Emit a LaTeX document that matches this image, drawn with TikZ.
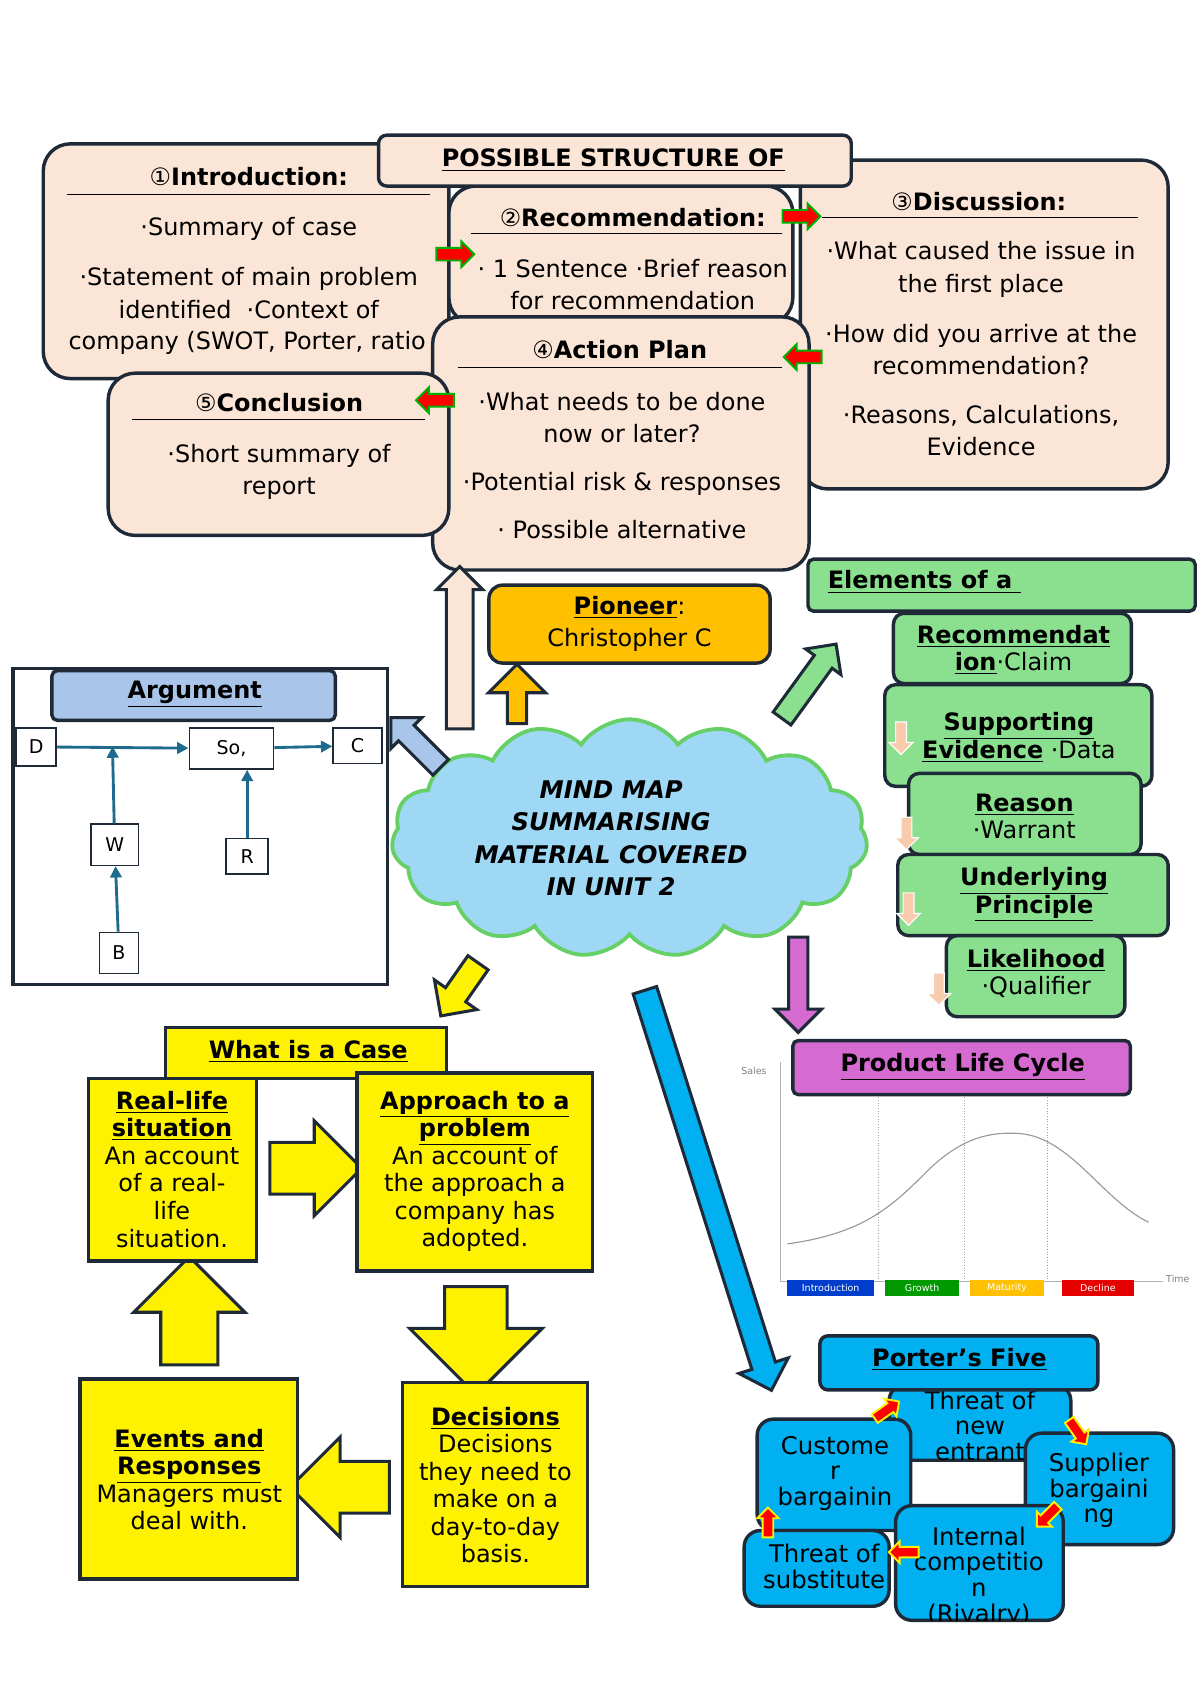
\documentclass[tikz,border=0pt]{standalone}
\usepackage{fontspec}
\setmainfont{DejaVu Sans}
\usetikzlibrary{shapes.symbols,shapes.arrows,arrows.meta}
\definecolor{pinkF}{HTML}{FBE5D6}
\definecolor{edgeC}{HTML}{1E2A38}
\definecolor{greenF}{HTML}{8AE08E}
\definecolor{orangeF}{HTML}{FFC000}
\definecolor{argF}{HTML}{A9C6EA}
\definecolor{orchidF}{HTML}{D56BD0}
\definecolor{cyanF}{HTML}{00B0F0}
\definecolor{cloudF}{HTML}{9ED8F4}
\definecolor{cloudE}{HTML}{66D066}
\definecolor{tealC}{HTML}{1F6B8E}
\definecolor{peachF}{HTML}{F8CBAD}
\newcommand\ub[1]{\underline{\textbf{#1}}}
\newcommand\bx[7]{\node[#6, minimum width={(#4-#2)*0.02cm}, minimum height={(#5-#3)*0.02cm}] (#1) at ({(#2+#4)/2},{(#3+#5)/2}) {#7};}
\tikzset{
  box/.style={draw=edgeC, line width=1.8pt, inner sep=0},
  pinkbox/.style={box, fill=pinkF, rounded corners=0.5cm},
  greenbox/.style={box, fill=greenF, rounded corners=0.2cm},
  ybox/.style={box, fill=yellow},
  cbox/.style={box, fill=cyanF, rounded corners=0.3cm},
  sq/.style={draw=edgeC, line width=0.8pt, fill=white, inner sep=0},
  txt/.style={align=center, font=\fontsize{12.6}{17}\selectfont, inner sep=0},
  ctxt/.style={align=center, font=\fontsize{12.6}{14.5}\selectfont, inner sep=0},
  ptxt/.style={align=center, font=\fontsize{12.8}{13.5}\selectfont, inner sep=0},
  blk/.style={single arrow, draw=edgeC, line width=1.6pt, inner sep=0, single arrow head indent=0pt},
  redarr/.style={single arrow, fill=red, draw=green!70!black, line width=1pt, inner sep=0,
    minimum height=0.7cm, text height=0.2cm, single arrow head extend=0.12cm},
  porarr/.style={single arrow, fill=red, draw=yellow, line width=1pt, inner sep=0,
    minimum height=0.55cm, text height=0.16cm, single arrow head extend=0.1cm},
  peacharr/.style={single arrow, fill=peachF, draw=white, line width=0.6pt, inner sep=0,
    minimum height=0.6cm, text height=0.18cm, single arrow head extend=0.12cm, rotate=-90},
  lnk/.style={draw=tealC, line width=1.5pt, -{Triangle[length=6pt,width=6pt]}},
  stage/.style={inner sep=0, minimum height=0.3cm, text=white, font=\fontsize{5}{5}\selectfont}
}
\begin{document}
\begin{tikzpicture}[x=0.02cm, y=-0.02cm]
\useasboundingbox (0,0) rectangle (1109,1568);

% structure of a report
\bx{intro}{40}{133}{415}{350}{pinkbox}{}
\bx{disc}{740}{148}{1080}{452}{pinkbox}{}
\bx{recom}{415}{172}{733}{300}{pinkbox}{}
\bx{struct}{350}{125}{787}{172}{box, fill=pinkF, rounded corners=0.15cm}{}
\bx{action}{400}{293}{748}{527}{pinkbox}{}
\bx{concl}{100}{345}{415}{495}{pinkbox}{}
\node[txt] (structT) at (567,148) {\ub{POSSIBLE STRUCTURE OF}};

\node[txt] (introT) at (230,163) {①\textbf{Introduction:}};
\draw (62,180) -- (398,180);
\node[txt] at (230,212) {·Summary of case};
\node[txt] at (230,271) {·Statement of main problem\\identified\ \ ·Context of};
\begin{scope}
\clip (42,290) rectangle (400,340);
\node[txt, anchor=west] at (63,317) {company (SWOT, Porter, ratio};
\end{scope}

\node[txt] (recomT) at (585,201) {②\textbf{Recommendation:}};
\draw (435,216) -- (723,216);
\node[txt] at (585,263) {· 1 Sentence ·Brief reason\\for recommendation};

\node[txt] (discT) at (905,186) {③\textbf{Discussion:}};
\draw (760,201) -- (1052,201);
\node[txt] at (907,249) {·What caused the issue in\\the first place};
\node[txt] at (907,323) {·How did you arrive at the\\recommendation?};
\node[txt] at (907,398) {·Reasons, Calculations,\\Evidence};

\node[txt] (actionT) at (573,323) {④\textbf{Action Plan}};
\draw (423,340) -- (723,340);
\node[txt] at (575,386) {·What needs to be done\\now or later?};
\node[txt] at (575,447) {·Potential risk \& responses};
\node[txt] at (575,490) {· Possible alternative};

\node[txt] (conclT) at (258,372) {⑤\textbf{Conclusion}};
\draw (122,388) -- (393,388);
\node[txt] at (258,436) {·Short summary of\\report};

\node[redarr] (r1) at (418,235) {};
\node[redarr] (r2) at (738,200) {};
\node[redarr, rotate=180] (r3) at (745,330) {};
\node[redarr, rotate=180] (r4) at (405,370) {};

% elements of an argument
\bx{elem}{747}{517}{1105}{565}{box, fill=greenF, rounded corners=0.1cm}{}
\node[txt, anchor=west] (elemT) at (765,538) {\ub{Elements of a\ }};
\bx{claim}{826}{567}{1046}{632}{greenbox}{}
\node[ctxt] at (937,601) {\ub{Recommendat}\\\ub{ion}·Claim};
\bx{evid}{818}{633}{1065}{727}{greenbox}{}
\node[ctxt] at (942,682) {\ub{Supporting}\\\ub{Evidence} ·Data};
\bx{reason}{840}{715}{1055}{790}{greenbox}{}
\node[ctxt] at (947,755) {\ub{Reason}\\·Warrant};
\bx{princ}{830}{790}{1080}{865}{greenbox}{}
\node[ctxt] at (956,827) {\ub{Underlying}\\\ub{Principle}};
\bx{likely}{875}{865}{1040}{940}{greenbox}{}
\node[ctxt] at (958,900) {\ub{Likelihood}\\·Qualifier};
\node[peacharr] (p1) at (833,680) {};
\node[peacharr] (p2) at (838,768) {};
\node[peacharr] (p3) at (840,838) {};
\node[peacharr] (p4) at (868,912) {};

% centre
\node[cloud, cloud puffs=15, cloud puff arc=110, aspect=2, fill=cloudF, draw=cloudE, line width=2pt,
  minimum width=8.8cm, minimum height=4.4cm, inner sep=0] (map) at (582,775) {};
\node[align=center, font=\fontsize{12.8}{17}\selectfont\bfseries\itshape] (mapT) at (565,775)
  {MIND MAP\\SUMMARISING\\MATERIAL COVERED\\IN UNIT 2};

\bx{pioneer}{452}{541}{712}{613}{box, fill=orangeF, rounded corners=0.25cm}{}
\node[txt] (pioneerT) at (582,577) {\ub{Pioneer}:\\Christopher C};

\node[blk, fill=pinkF, minimum height=3cm, text height=0.44cm, single arrow head extend=0.18cm, rotate=90] (aUp) at (425,605) {};
\node[blk, fill=orangeF, minimum height=1.1cm, text height=0.3cm, single arrow head extend=0.35cm, rotate=90] (aOr) at (478,646) {};
\node[blk, fill=argF, minimum height=1.3cm, text height=0.35cm, single arrow head extend=0.2cm, rotate=135] (aArg) at (388,690) {};
\node[blk, fill=greenF, minimum height=1.7cm, text height=0.35cm, single arrow head extend=0.2cm, rotate=54] (aEl) at (745,634) {};
\node[blk, fill=yellow, minimum height=1.2cm, text height=0.4cm, single arrow head extend=0.25cm, rotate=-125] (aCase) at (428,910) {};
\node[blk, fill=orchidF, minimum height=1.76cm, text height=0.3cm, single arrow head extend=0.25cm, rotate=-90] (aPlc) at (738,906) {};
\node[blk, fill=cyanF, minimum height=7.76cm, text height=0.4cm, single arrow head extend=0.25cm, rotate=-72.45] (aPor) at (653,1095) {};

% argument
\draw[draw=edgeC, line width=1.8pt] (12,618) rectangle (358,910);
\bx{arg}{48}{620}{310}{666}{box, fill=argF, rounded corners=0.1cm}{}
\node[txt] (argT) at (180,642) {\ub{Argument}};
\bx{D}{15}{673}{52}{708}{sq}{D}
\bx{So}{175}{673}{253}{711}{sq}{So,}
\bx{C}{308}{673}{353}{706}{sq}{C}
\bx{W}{84}{762}{128}{800}{sq}{W}
\bx{R}{209}{775}{248}{808}{sq}{R}
\bx{B}{92}{862}{128}{900}{sq}{B}
\coordinate (wj) at (104,690);
\draw[lnk] (D) -- (So);
\draw[lnk] (So) -- (C);
\draw[lnk] (W) -- (wj);
\draw[lnk] (R) -- (R|-So.south);
\draw[lnk] (B) -- (W);

% what is a case
\node[blk, fill=yellow, minimum height=1.7cm, text height=0.9cm, single arrow head extend=0.4cm] (yR) at (280,1080) {};
\node[blk, fill=yellow, minimum height=2cm, text height=1.1cm, single arrow head extend=0.65cm, rotate=-90] (yD) at (440,1225) {};
\node[blk, fill=yellow, minimum height=1.84cm, text height=0.9cm, single arrow head extend=0.45cm, rotate=180] (yL) at (326,1375) {};
\node[blk, fill=yellow, minimum height=2cm, text height=1cm, single arrow head extend=0.5cm, rotate=90] (yU) at (175,1225) {};
\bx{case}{153}{950}{413}{997}{ybox}{}
\node[txt] (caseT) at (285,972) {\ub{What is a Case}};
\bx{real}{82}{997}{237}{1166}{ybox}{}
\node[ctxt] at (159,1081) {\ub{Real-life}\\\ub{situation}\\An account\\of a real-\\life\\situation.};
\bx{appr}{330}{992}{548}{1175}{ybox}{}
\node[ctxt] at (439,1083) {\ub{Approach to a}\\\ub{problem}\\An account of\\the approach a\\company has\\adopted.};
\bx{events}{74}{1275}{275}{1460}{ybox}{}
\node[ctxt] at (175,1368) {\ub{Events and}\\\ub{Responses}\\Managers must\\deal with.};
\bx{decis}{372}{1278}{543}{1467}{ybox}{}
\node[ctxt] at (458,1373) {\ub{Decisions}\\Decisions\\they need to\\make on a\\day-to-day\\basis.};

% product life cycle
\draw[gray!60, line width=0.5pt] (722,1185) -- (722,982);
\draw[gray!60, line width=0.5pt] (722,1185) -- (1075,1185);
\node[gray, font=\fontsize{5}{5}\selectfont] (sales) at (697,990) {Sales};
\node[gray, font=\fontsize{5}{5}\selectfont, anchor=west] (time) at (1072,1182) {Time};
\foreach \x in {812,892,968} \draw[gray!70, densely dotted] (\x,1012) -- (\x,1182);
\draw[gray!80, line width=0.6pt] (728,1150) .. controls (800,1140) and (825,1115) .. (860,1080)
  .. controls (890,1052) and (915,1046) .. (943,1048) .. controls (990,1052) and (1020,1110) .. (1062,1130);
\bx{intr}{728}{1183}{808}{1198}{stage, fill=blue!70!cyan!80!black}{Introduction}
\bx{grow}{818}{1183}{887}{1198}{stage, fill=green!60!black}{Growth}
\bx{matu}{897}{1183}{965}{1198}{stage, fill=orangeF}{Maturity}
\bx{decl}{982}{1183}{1048}{1198}{stage, fill=red!90!black}{Decline}
\bx{plc}{733}{962}{1045}{1012}{box, fill=orchidF, rounded corners=0.1cm}{}
\node[txt] (plcT) at (890,986) {\ub{Product Life Cycle}};

% porter
\bx{newent}{822}{1280}{990}{1350}{cbox}{}
\begin{scope}
\clip[rounded corners=0.3cm] (822,1280) rectangle (990,1350);
\node[ptxt] at (906,1318) {Threat of\\new\\entrant};
\end{scope}
\bx{porter}{758}{1235}{1015}{1285}{box, fill=cyanF, rounded corners=0.15cm}{}
\node[txt] (porterT) at (887,1257) {\ub{Porter’s Five}};
\bx{cust}{700}{1312}{842}{1415}{cbox}{}
\node[ptxt] at (772,1362) {Custome\\r\\bargainin};
\bx{supp}{948}{1325}{1085}{1428}{cbox}{}
\node[ptxt] at (1016,1378) {Supplier\\bargaini\\ng};
\bx{intern}{828}{1392}{983}{1498}{cbox}{}
\begin{scope}
\clip[rounded corners=0.3cm] (828,1392) rectangle (983,1498);
\node[ptxt] at (905,1458) {Internal\\competitio\\n\\(Rivalry)};
\end{scope}
\bx{subst}{688}{1415}{822}{1485}{cbox}{}
\node[ptxt] at (762,1448) {Threat of\\substitute};
\node[porarr, rotate=35] (q1) at (818,1305) {};
\node[porarr, rotate=-55] (q2) at (995,1322) {};
\node[porarr, rotate=-135] (q3) at (970,1400) {};
\node[porarr, rotate=180] (q4) at (838,1435) {};
\node[porarr, rotate=90] (q5) at (710,1410) {};
\end{tikzpicture}
\end{document}
